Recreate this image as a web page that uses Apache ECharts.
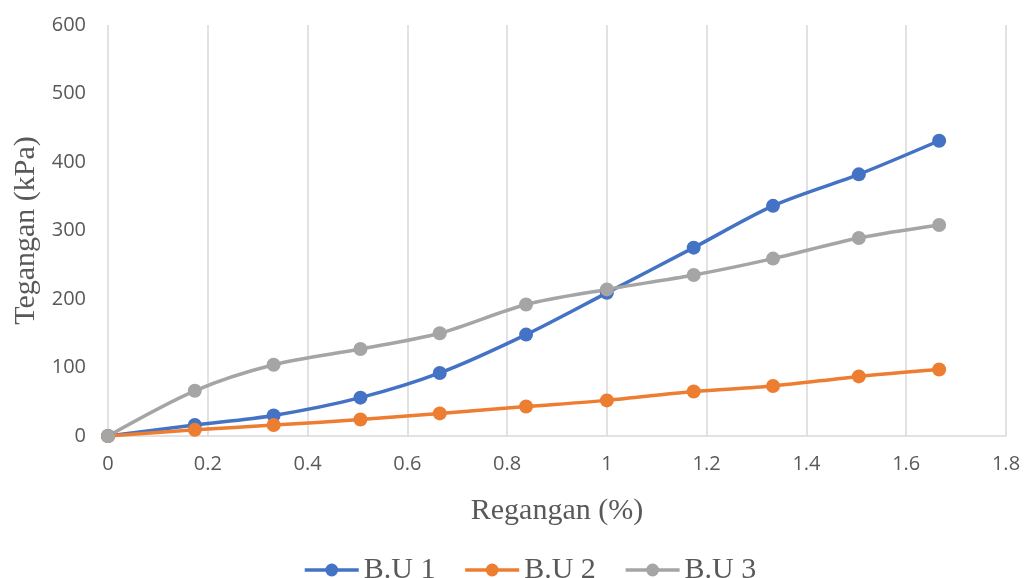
<!DOCTYPE html>
<html>
<head>
<meta charset="utf-8">
<script src="https://cdn.jsdelivr.net/npm/echarts@6/dist/echarts.min.js"></script>
<style>html,body{margin:0;padding:0;background:#fff}#c{width:1025px;height:578px}</style>
</head>
<body>
<div id="c"></div>
<script>
var strain = [0, 0.174, 0.332, 0.506, 0.665, 0.838, 1.0, 1.174, 1.333, 1.505, 1.666];
var bu1 = [0, 16, 30, 56, 92, 148, 209, 275, 336, 382, 431];
var bu2 = [0, 9, 16, 24, 33, 43, 52, 65, 73, 87, 97];
var bu3 = [0, 66, 104, 127, 150, 192, 214, 235, 259, 289, 308];
var seriesNames = ['B.U 1', 'B.U 2', 'B.U 3'];
var colors = ['#4472C4', '#ED7D31', '#A5A5A5'];

function pairs(ys) { return strain.map(function (x, i) { return [x, ys[i]]; }); }

var chart = echarts.init(document.getElementById('c'));
var tickFont = { fontFamily: 'Open Sans', fontSize: 20, color: '#595959' };
var serif = 'Liberation Serif';
chart.setOption({
  animation: false,
  color: colors,
  grid: { left: 108, right: 19, top: 25, bottom: 142 },
  legend: {
    left: 298, top: 550,
    itemWidth: 54, itemHeight: 16, itemGap: 28,
    lineStyle: { width: 3.5 },
    textStyle: { fontFamily: serif, fontSize: 30, color: '#595959' },
    data: seriesNames
  },
  xAxis: {
    type: 'value', min: 0, max: 1.8, interval: 0.2,
    name: 'Regangan (%)', nameLocation: 'middle', nameGap: 60,
    nameTextStyle: { fontFamily: serif, fontSize: 30, color: '#595959' },
    axisLine: { show: true, lineStyle: { color: '#d9d9d9', width: 1.5 } },
    axisTick: { show: false },
    axisLabel: Object.assign({ margin: 18 }, tickFont),
    splitLine: { show: true, lineStyle: { color: '#d9d9d9', width: 1.5 } }
  },
  yAxis: {
    type: 'value', min: 0, max: 600, interval: 100,
    name: 'Tegangan (kPa)', nameLocation: 'middle', nameGap: 64,
    nameTextStyle: { fontFamily: serif, fontSize: 30, color: '#595959' },
    axisLine: { show: false },
    axisTick: { show: false },
    axisLabel: Object.assign({ margin: 22 }, tickFont),
    splitLine: { show: false }
  },
  series: [bu1, bu2, bu3].map(function (d, i) {
    return {
      name: seriesNames[i], type: 'line', data: pairs(d),
      smooth: 0.3, symbol: 'circle', symbolSize: 14,
      lineStyle: { width: 3.5, color: colors[i] },
      itemStyle: { color: colors[i] }
    };
  })
});
</script>
</body>
</html>
